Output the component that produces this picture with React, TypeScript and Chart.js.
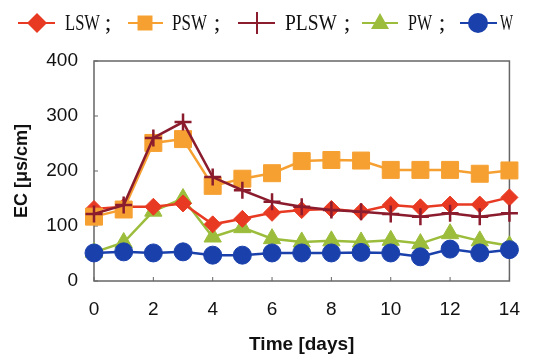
import React, { useEffect, useRef } from "react";
import { Chart, registerables } from "chart.js";

Chart.register(...registerables);

const days = [0, 1, 2, 3, 4, 5, 6, 7, 8, 9, 10, 11, 12, 13, 14];
const xTicks = [0, 2, 4, 6, 8, 10, 12, 14];
const yTicks = [0, 100, 200, 300, 400];

const lswValues = [131, 135, 135, 141, 103, 113, 124, 129, 131, 126, 138, 134, 139, 139, 152];
const pswValues = [117, 130, 251, 258, 173, 186, 196, 218, 220, 219, 202, 202, 202, 195, 201];
const plswValues = [122, 138, 260, 289, 189, 165, 144, 135, 129, 126, 122, 117, 123, 117, 123];
const pwValues = [52, 70, 127, 150, 80, 97, 77, 71, 73, 71, 74, 68, 86, 73, 64];
const wValues = [51, 53, 51, 53, 47, 47, 51, 51, 51, 52, 51, 44, 58, 51, 57];

const seriesNames = ["LSW", "PSW", "PLSW", "PW", "W"];

const toXY = (vals: number[]) => vals.map((v, i) => ({ x: days[i], y: v }));

const legendItems = [
  { name: "LSW", lineFrom: 18, lineTo: 55, marker: 37, text: 65, textW: 35, semi: 108, style: "rectRot", r: 10, color: "#e83a22" },
  { name: "PSW", lineFrom: 128, lineTo: 163, marker: 145, text: 172, textW: 35, semi: 217, style: "rect", r: 7.5, color: "#f6a032" },
  { name: "PLSW", lineFrom: 238, lineTo: 275, marker: 257, text: 285, textW: 52, semi: 347, style: "cross", r: 11, color: "#8a1c2e" },
  { name: "PW", lineFrom: 362, lineTo: 398, marker: 380, text: 408, textW: 24, semi: 442, style: "triangle", r: 10, color: "#9cbd3c" },
  { name: "W", lineFrom: 460, lineTo: 497, marker: 478, text: 500, textW: 13, semi: -1, style: "circle", r: 10, color: "#1a40ac" },
];

function drawMarker(ctx: CanvasRenderingContext2D, style: string, x: number, y: number, r: number, color: string) {
  ctx.fillStyle = color;
  ctx.strokeStyle = color;
  ctx.beginPath();
  if (style === "rectRot") {
    ctx.moveTo(x, y - r);
    ctx.lineTo(x + r, y);
    ctx.lineTo(x, y + r);
    ctx.lineTo(x - r, y);
    ctx.closePath();
    ctx.fill();
  } else if (style === "rect") {
    ctx.rect(x - r, y - r, 2 * r, 2 * r);
    ctx.fill();
  } else if (style === "cross") {
    ctx.lineWidth = 2;
    ctx.moveTo(x - r, y);
    ctx.lineTo(x + r, y);
    ctx.moveTo(x, y - r);
    ctx.lineTo(x, y + r);
    ctx.stroke();
  } else if (style === "triangle") {
    const h = r * 0.9;
    ctx.moveTo(x, y - r);
    ctx.lineTo(x + h, y + r * 0.6);
    ctx.lineTo(x - h, y + r * 0.6);
    ctx.closePath();
    ctx.fill();
  } else {
    ctx.arc(x, y, r, 0, Math.PI * 2);
    ctx.fill();
  }
}

export default function App() {
  const ref = useRef<HTMLCanvasElement | null>(null);

  useEffect(() => {
    const canvas = ref.current;
    if (!canvas) return;

    const framePlugin = {
      id: "frame",
      beforeDatasetsDraw(chart: any) {
        const { ctx, chartArea } = chart;
        const { left, right, top, bottom } = chartArea;
        ctx.save();
        ctx.strokeStyle = "#666666";
        ctx.lineWidth = 1.5;
        ctx.strokeRect(left, top, right - left, bottom - top);
        ctx.lineWidth = 1;
        const xs = chart.scales.x;
        const ys = chart.scales.y;
        xTicks.forEach((t) => {
          const px = xs.getPixelForValue(t);
          ctx.beginPath();
          ctx.moveTo(px, bottom);
          ctx.lineTo(px, bottom - 4);
          ctx.stroke();
        });
        yTicks.forEach((t) => {
          const py = ys.getPixelForValue(t);
          ctx.beginPath();
          ctx.moveTo(left, py);
          ctx.lineTo(left + 4, py);
          ctx.stroke();
        });
        ctx.restore();
      },
    };

    const legendPlugin = {
      id: "customLegend",
      afterDraw(chart: any) {
        const { ctx } = chart;
        const y = 23;
        ctx.save();
        legendItems.forEach((it) => {
          ctx.strokeStyle = it.color;
          ctx.lineWidth = 2;
          ctx.beginPath();
          ctx.moveTo(it.lineFrom, y);
          ctx.lineTo(it.lineTo, y);
          ctx.stroke();
          drawMarker(ctx, it.style, it.marker, y, it.r, it.color);
          ctx.fillStyle = "#111111";
          ctx.font = "24px 'Liberation Serif'";
          ctx.textBaseline = "middle";
          ctx.textAlign = "left";
          const w = ctx.measureText(it.name).width;
          const sx = it.textW / w;
          ctx.save();
          ctx.translate(it.text, y + 1);
          ctx.scale(sx, 1);
          ctx.fillText(it.name, 0, 0);
          ctx.restore();
          if (it.semi > 0) {
            ctx.textAlign = "center";
            ctx.fillText(";", it.semi, y + 1);
          }
        });
        ctx.restore();
      },
    };

    const mk = (label: string, vals: number[], color: string, style: string, r: number, order: number, bw = 1) => ({
      label,
      data: toXY(vals),
      borderColor: color,
      backgroundColor: color,
      pointBackgroundColor: color,
      pointBorderColor: color,
      pointBorderWidth: bw,
      pointStyle: style,
      pointRadius: r,
      borderWidth: 2.5,
      tension: 0,
      order,
      clip: false,
    });

    const chart = new Chart(canvas, {
      type: "line",
      data: {
        datasets: [
          mk(seriesNames[0], lswValues, "#e83a22", "rectRot", 8.5, 3),
          mk(seriesNames[1], pswValues, "#f6a032", "rect", 12, 2),
          mk(seriesNames[2], plswValues, "#8a1c2e", "cross", 8.5, 1, 2.5),
          mk(seriesNames[3], pwValues, "#9cbd3c", "triangle", 10, 4),
          mk(seriesNames[4], wValues, "#1a40ac", "circle", 9, 0),
        ] as any,
      },
      options: {
        responsive: false,
        animation: false,
        layout: { padding: { top: 61, right: 27, bottom: 0, left: 0 } },
        plugins: {
          legend: { display: false },
          tooltip: { enabled: false },
        },
        scales: {
          x: {
            type: "linear",
            min: 0,
            max: 14,
            afterBuildTicks: (s: any) => {
              s.ticks = xTicks.map((v) => ({ value: v }));
            },
            afterFit: (s: any) => {
              s.height = 77;
            },
            grid: { display: false, drawTicks: false },
            border: { display: false },
            ticks: {
              padding: 17,
              color: "#111111",
              font: { family: "'Liberation Sans', Arial", size: 19 },
              maxRotation: 0,
            },
            title: {
              display: true,
              text: "Time [days]",
              color: "#111111",
              font: { family: "'Liberation Sans', Arial", size: 19, weight: "bold" },
              padding: { top: 0, bottom: 2 },
            },
          },
          y: {
            min: 0,
            max: 400,
            afterBuildTicks: (s: any) => {
              s.ticks = yTicks.map((v) => ({ value: v }));
            },
            afterFit: (s: any) => {
              s.width = 94;
            },
            grid: { display: false, drawTicks: false },
            border: { display: false },
            ticks: {
              padding: 16,
              color: "#111111",
              font: { family: "'Liberation Sans', Arial", size: 19 },
            },
            title: {
              display: true,
              text: "EC [μs/cm]",
              color: "#111111",
              font: { family: "'Liberation Sans', Arial", size: 18, weight: "bold" },
              padding: { top: 11, bottom: 0 },
            },
          },
        },
      },
      plugins: [framePlugin, legendPlugin],
    });

    return () => chart.destroy();
  }, []);

  return (
    <div style={{ position: "fixed", left: 0, top: 0, width: 537, height: 358, background: "#ffffff" }}>
      <canvas ref={ref} width={537} height={358} style={{ display: "block" }} />
    </div>
  );
}
